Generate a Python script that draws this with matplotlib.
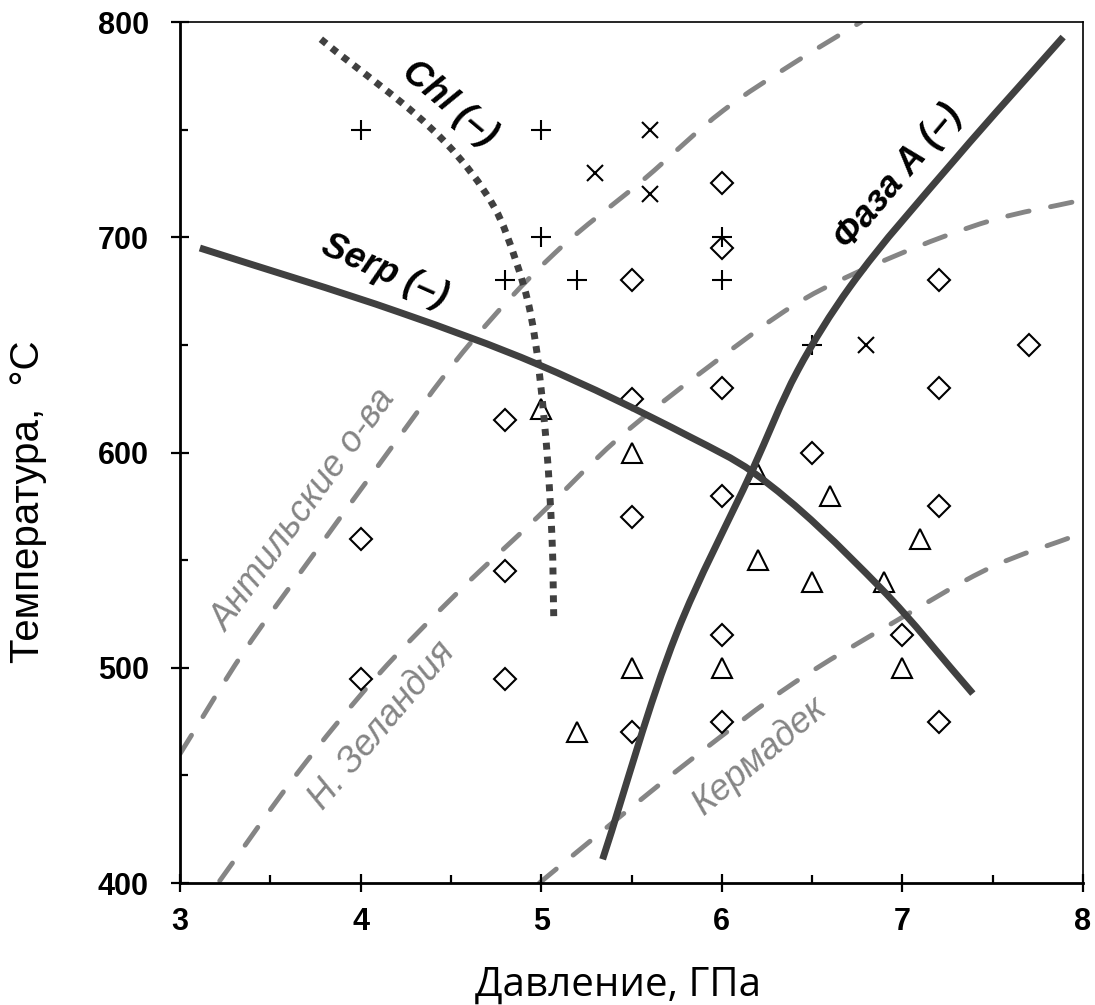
import matplotlib.pyplot as plt
import numpy as np
from matplotlib.path import Path
from matplotlib.patches import PathPatch

# experimental runs, P in GPa, T in C
plus_p = [4.0, 5.0, 5.0, 4.8, 5.2, 6.0, 6.0, 6.5]
plus_t = [750, 750, 700, 680, 680, 700, 680, 650]
cross_p = [5.6, 5.3, 5.6, 6.8]
cross_t = [750, 730, 720, 650]
diamond_p = [6.0, 6.0, 5.5, 7.7, 7.2, 7.2, 6.0, 5.5, 4.8, 6.5, 6.0,
             7.2, 5.5, 4.0, 4.8, 6.0, 7.0, 4.0, 4.8, 5.5, 6.0, 7.2]
diamond_t = [725, 695, 680, 650, 680, 630, 630, 625, 615, 600, 580,
             575, 570, 560, 545, 515, 515, 495, 495, 470, 475, 475]
triangle_p = [5.0, 5.5, 6.2, 6.6, 7.1, 6.2, 6.5, 6.9, 5.5, 6.0, 7.0, 5.2]
triangle_t = [620, 600, 590, 580, 560, 550, 540, 540, 500, 500, 500, 470]

# reaction boundaries
serp_p = [3.11, 4.22, 4.98, 5.83, 6.17, 6.88, 7.39]
serp_t = [695, 665, 641, 607, 591, 537, 488]
phaseA_p = [5.34, 5.75, 6.17, 6.42, 6.71, 7.3, 7.89]
phaseA_t = [411, 516, 592, 638, 677, 737, 793]
chl_p = [3.78, 4.47, 4.74, 4.86, 4.94, 5.02, 5.06, 5.07]
chl_t = [792, 744, 714, 689, 665, 612, 560, 521]

# slab geotherms
antil_p = [3.0, 3.35, 3.76, 4.09, 4.6, 5.08, 5.57, 6.01, 6.4, 6.77]
antil_t = [460, 507, 555, 593, 650, 693, 727, 759, 781, 800]
nz_p = [3.22, 3.65, 4.09, 4.55, 4.98, 5.42, 5.93, 6.45, 6.95, 7.5, 7.98]
nz_t = [401, 451, 496, 536, 570, 606, 640, 671, 691, 708, 717]
kerm_p = [4.99, 5.25, 5.6, 5.84, 6.4, 6.95, 7.5, 7.98]
kerm_t = [400, 418, 442, 458, 493, 521, 547, 562]

dark = '#404040'
grey = '#858585'


def smooth_curve(ax, xs, ys, **kw):
    # smoothed line through the points, built as cubic Bezier segments in
    # screen space so uneven point spacing does not make kinks
    pts = ax.transData.transform(np.column_stack([xs, ys]))
    n = len(pts)
    seg = np.diff(pts, axis=0)
    seglen = np.hypot(seg[:, 0], seg[:, 1])
    unit = seg / seglen[:, None]
    tang = np.zeros_like(pts)
    tang[0], tang[-1] = unit[0], unit[-1]
    for i in range(1, n - 1):
        v = unit[i - 1] + unit[i]
        tang[i] = v / np.hypot(*v)
    verts = [pts[0]]
    for i in range(n - 1):
        d = seglen[i] / 3
        verts += [pts[i] + tang[i] * d, pts[i + 1] - tang[i + 1] * d, pts[i + 1]]
    verts = ax.transData.inverted().transform(np.array(verts))
    codes = [Path.MOVETO] + [Path.CURVE4] * (3 * (n - 1))
    patch = PathPatch(Path(verts, codes), fill=False, **kw)
    ax.add_patch(patch)
    return patch


fig = plt.figure(figsize=(10.95, 10.05), dpi=100)
ax = fig.add_axes([180/1095, 122/1005, 903/1095, 861/1005])
ax.set_xlim(3, 8)
ax.set_ylim(400, 800)

for p, t in [(antil_p, antil_t), (nz_p, nz_t), (kerm_p, kerm_t)]:
    smooth_curve(ax, p, t, edgecolor=grey, lw=3.5, linestyle=(0, (4.5, 4.5)),
                 capstyle='round', zorder=1)

mk = dict(ls='none', mfc='none', mec='black', mew=1.5, zorder=2)
ax.plot(plus_p, plus_t, marker='+', ms=15, **mk)
ax.plot(cross_p, cross_t, marker='x', ms=11, **mk)
ax.plot(diamond_p, diamond_t, marker='D', ms=11, **mk)
ax.plot(triangle_p, triangle_t, marker='^', ms=14, **mk)

smooth_curve(ax, serp_p, serp_t, edgecolor=dark, lw=5, capstyle='butt', zorder=3)
smooth_curve(ax, phaseA_p, phaseA_t, edgecolor=dark, lw=5, capstyle='butt', zorder=3)
smooth_curve(ax, chl_p, chl_t, edgecolor=dark, lw=5, linestyle=(0, (1, 1)),
             capstyle='butt', zorder=3)

bi = dict(family='Liberation Sans', weight='bold', style='italic', fontsize=26,
          ha='center', va='center', color='black')
ax.text(4.49, 762, 'Chl (–)', rotation=-40, **bi)
ax.text(4.13, 684, 'Serp (–)', rotation=-24, **bi)
ax.text(6.98, 728, 'Фаза А (–)', rotation=50, **bi)

gi = dict(family='Liberation Sans', style='italic', fontsize=26,
          ha='center', va='center', color=grey)
ax.text(3.69, 573, 'Антильские о-ва', rotation=54, **gi)
ax.text(4.12, 473, 'Н. Зеландия', rotation=50, **gi)
ax.text(6.21, 459, 'Кермадек', rotation=40, **gi)

ax.set_xticks(np.arange(3, 8.5, 1))
ax.set_xticks(np.arange(3.5, 8, 1), minor=True)
ax.set_yticks(np.arange(400, 850, 100))
ax.set_yticks(np.arange(450, 800, 100), minor=True)
ax.tick_params(which='major', direction='inout', length=13, width=1.6,
               labelsize=22, top=False, right=False)
ax.tick_params(axis='y', which='major', pad=16)
ax.tick_params(axis='x', which='major', pad=11)
ax.tick_params(which='minor', direction='in', length=6, width=1.6, top=False, right=False)
for lab in ax.get_xticklabels() + ax.get_yticklabels():
    lab.set_family('Liberation Sans')
    lab.set_fontweight('bold')

for side in ['left', 'bottom']:
    ax.spines[side].set_linewidth(2)
for side in ['top', 'right']:
    ax.spines[side].set_linewidth(1.2)

fig.text(618/1095, 9/1005, 'Давление, ГПа', family=['Open Sans', 'DejaVu Sans'],
         fontsize=29, ha='center', va='baseline')
fig.text(28/1095, 1 - 502/1005, 'Температура,  °C', family='Liberation Sans',
         fontsize=29, rotation=90, ha='center', va='center')

fig.savefig('out.png', dpi=100)
